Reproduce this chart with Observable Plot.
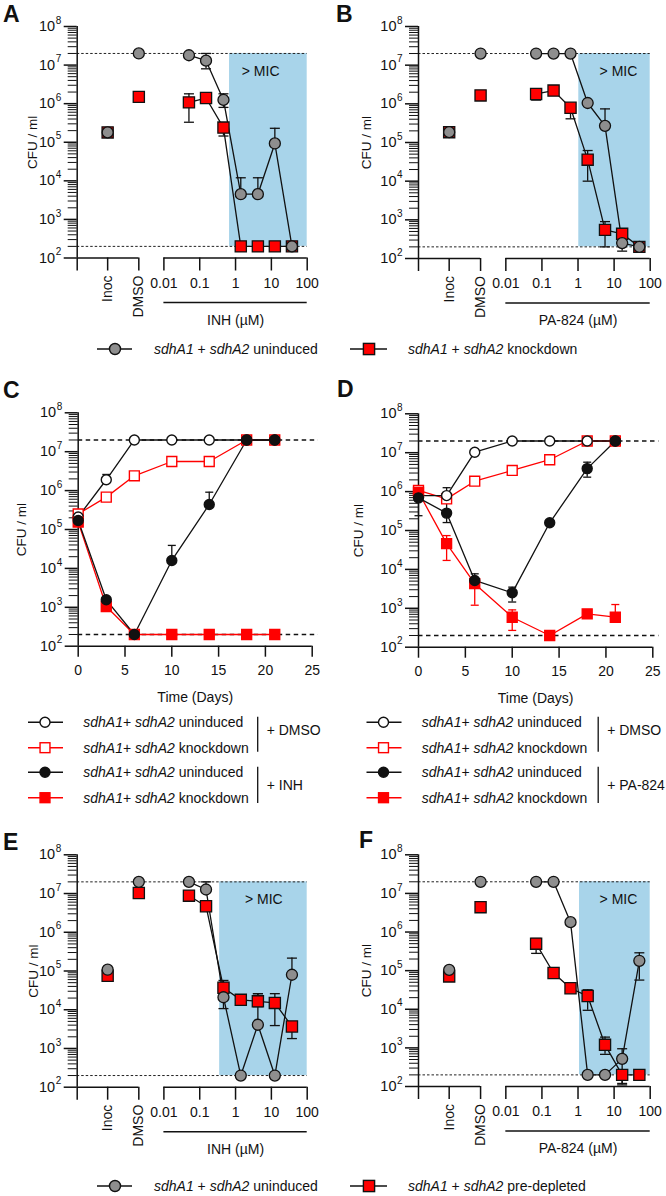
<!DOCTYPE html>
<html><head><meta charset="utf-8">
<script src="https://cdn.jsdelivr.net/npm/d3@7"></script>
<script src="https://cdn.jsdelivr.net/npm/@observablehq/plot@0.6"></script>
<style>
body{margin:0;background:#fff;}
#fig{position:relative;width:666px;height:1196px;overflow:hidden;font-family:"Liberation Sans",Arial,sans-serif;background:#fff;}
#fig svg{position:absolute;}
</style></head><body><div id="fig"></div>
<script>
// ---------------- DATA ----------------
const controlLabels = ["Inoc", "DMSO"];
const inhConc   = [0.05, 0.15, 0.46, 1.4, 4.2, 12.5, 37.5];
const pa824Conc = [0.069, 0.21, 0.62, 1.85, 5.6, 16.7, 50];
const concTickValues = [0.01, 0.1, 1, 10, 100];
const concTickLabels = ["0.01", "0.1", "1", "10", "100"];
const yTickValues = [1e2, 1e3, 1e4, 1e5, 1e6, 1e7, 1e8];
const days = [0, 3, 6, 10, 14, 18, 21];
const dayTicks = [0, 5, 10, 15, 20, 25];
const detectionLimits = [2e7, 200];

// Panel A: INH (values: Inoc, DMSO, then inhConc)
const aUninduced   = [1.8e5, 2e7, 1.8e7, 1.3e7, 1.25e6, 4.5e3, 4.5e3, 9.3e4, 200];
const aUninducedHi = [null, null, null, 2e7, 1.8e6, 1.2e4, 1.2e4, 2.3e5, null];
const aUninducedLo = [null, null, null, 8e6, 8e5, null, null, null, null];
const aKnockdown   = [1.8e5, 1.5e6, 1.08e6, 1.4e6, 2.4e5, 200, 200, 200, 200];
const aKnockdownHi = [null, null, 1.8e6, null, null, null, null, null, null];
const aKnockdownLo = [null, null, 3.3e5, null, 1.45e5, null, null, null, null];

// Panel B: PA-824 (values: Inoc, DMSO, then pa824Conc)
const bUninduced   = [1.85e5, 2e7, 2e7, 2e7, 2e7, 1.05e6, 2.7e5, 250, 200];
const bUninducedHi = [null, null, null, null, null, null, 7.4e5, null, null];
const bUninducedLo = [null, null, null, null, null, null, null, 155, null];
const bKnockdown   = [1.85e5, 1.65e6, 1.8e6, 2.2e6, 7.9e5, 3.6e4, 550, 435, 200];
const bKnockdownHi = [null, null, null, null, 1e6, 6.2e4, 900, null, null];
const bKnockdownLo = [null, null, 1.25e6, null, 4.1e5, 1e4, 200, null, null];

// Panel C: INH time course
const cUninducedDMSO   = [2.1e5, 1.9e6, 2e7, 2e7, 2e7, 2e7, 2e7];
const cUninducedDMSOHi = [null, 2.6e6, null, null, null, null, null];
const cKnockdownDMSO   = [2.5e5, 6.8e5, 2.4e6, 5.6e6, 5.6e6, 2e7, 2e7];
const cUninducedINH    = [1.7e5, 1.56e3, 200, 1.6e4, 4.4e5, 2e7, 2e7];
const cUninducedINHHi  = [null, null, null, 3.9e4, 9.1e5, null, null];
const cKnockdownINH    = [1.55e5, 1.05e3, 200, 200, 200, 200, 200];
const cKnockdownINHLo  = [null, 850, null, null, null, null, null];

// Panel D: PA-824 time course
const dUninducedDMSO   = [7.9e5, 7.9e5, 1.03e7, 2e7, 2e7, 2e7, 2e7];
const dUninducedDMSOHi = [null, 1.26e6, null, null, null, null, null];
const dKnockdownDMSO   = [1.07e6, 6.5e5, 1.85e6, 3.5e6, 6.6e6, 2e7, 2e7];
const dUninducedPA     = [6.9e5, 2.8e5, 5.2e3, 2.5e3, 1.58e5, 3.9e6, 2e7];
const dUninducedPAHi   = [1.3e6, 5.1e5, 7.7e3, 3.5e3, null, 5.7e6, null];
const dUninducedPALo   = [2.4e5, 1.6e5, null, 1.45e3, null, 2.35e6, null];
const dKnockdownPA     = [9.6e5, 4.6e4, 4.3e3, 590, 200, 720, 590];
const dKnockdownPAHi   = [null, 7.4e4, null, 910, null, null, 1.25e3];
const dKnockdownPALo   = [null, 1.7e4, 1.2e3, 270, null, null, null];

// Panel E: INH, pre-depleted
const eUninduced   = [1.08e5, 2e7, 2e7, 1.27e7, 2.1e4, 200, 4.1e3, 200, 8e4];
const eUninducedHi = [null, null, null, 2e7, null, null, 2.6e4, null, 2.15e5];
const eUninducedLo = [null, null, null, null, 1.07e4, null, null, null, null];
const eDepleted    = [7.5e4, 1.03e7, 8.8e6, 4.7e6, 3.7e4, 1.8e4, 1.65e4, 1.5e4, 3.7e3];
const eDepletedHi  = [null, null, null, null, 5.7e4, null, 2.6e4, 2.6e4, 4.9e3];
const eDepletedLo  = [null, null, null, null, null, null, 1.2e4, 3.9e3, 1.8e3];

// Panel F: PA-824, pre-depleted
const fUninduced   = [1.05e5, 2e7, 2e7, 2e7, 1.8e6, 200, 200, 520, 1.8e5];
const fUninducedHi = [null, null, null, null, null, null, null, 950, 2.9e5];
const fUninducedLo = [null, null, null, null, null, null, null, 120, 5.7e4];
const fDepleted    = [7.1e4, 4.4e6, 5e5, 8.7e4, 3.5e4, 2.2e4, 1.2e3, 200, 200];
const fDepletedHi  = [null, null, 6.8e5, null, null, 3.2e4, 1.9e3, null, null];
const fDepletedLo  = [null, null, 2.8e5, null, null, 9.4e3, 680, 110, null];

// ---------------- STYLE ----------------
const INK = "#111", RED = "#ff0000", GRAY = "#8e8e8e", BLUE = "#a8d4ea";
const FONT = '"Liberation Sans", Arial, sans-serif';
const fig = document.getElementById("fig");
const capSymbol = {draw(ctx, size) { const w = Math.sqrt(size / Math.PI); ctx.moveTo(-w, 0); ctx.lineTo(w, 0); }};
const minorTicks = [];
for (let e = 2; e < 8; e++) for (let m = 2; m <= 9; m++) minorTicks.push(m * 10 ** e);

function place(svg, left, top) { svg.style.left = left + "px"; svg.style.top = top + "px"; fig.appendChild(svg); }

function yAxisMarks(XMIN, u, titleDx) {
  return [
    Plot.ruleX([XMIN], {y1: () => 100, y2: () => 1e8, stroke: INK, strokeWidth: 1.5}),
    Plot.ruleY(yTickValues, {y: d => d, x1: () => XMIN, x2: () => XMIN - 13 * u, stroke: INK, strokeWidth: 1.5}),
    Plot.ruleY(minorTicks, {y: d => d, x1: () => XMIN, x2: () => XMIN - 9 * u, stroke: INK, strokeWidth: 1}),
    Plot.text(yTickValues, {x: () => XMIN, y: d => d, text: () => "10", dx: -22, textAnchor: "end", fontSize: 14.5, fill: INK}),
    Plot.text(yTickValues, {x: () => XMIN, y: d => d, text: d => String(Math.round(Math.log10(d))), dx: -21.5, dy: -6, textAnchor: "start", fontSize: 10, fill: INK}),
    Plot.text(["CFU / ml"], {x: () => XMIN + titleDx * u, y: () => 1e5, text: d => d, rotate: -90, fontSize: 13.5, fill: INK})
  ];
}

function errMarks(R, color, cap) {
  const H = R.filter(d => d.hi != null), L = R.filter(d => d.lo != null);
  return [
    Plot.ruleX(H, {x: "x", y1: "v", y2: "hi", stroke: color, strokeWidth: 1.3}),
    Plot.dot(H, {x: "x", y: "hi", symbol: capSymbol, r: cap, stroke: color, strokeWidth: 1.3, fill: "none"}),
    Plot.ruleX(L, {x: "x", y1: "v", y2: "lo", stroke: color, strokeWidth: 1.3}),
    Plot.dot(L, {x: "x", y: "lo", symbol: capSymbol, r: cap, stroke: color, strokeWidth: 1.3, fill: "none"})
  ];
}

function dosePanel(c) {
  const XMIN = -4.42, XMAX = 2;
  const catX = {Inoc: -3.57, DMSO: -2.7};
  const fw = c.width - c.ml - c.mr, fh = c.height - c.mt - c.mb;
  const u = (XMAX - XMIN) / fw;
  const yDown = px => 100 * Math.pow(10, -px / (fh / 6));
  const pos = i => i < 2 ? catX[controlLabels[i]] : Math.log10(c.conc[i - 2]);
  const rows = (v, hi, lo) => v.map((d, i) => ({x: pos(i), v: d, hi: hi[i], lo: lo[i], dose: i >= 2}));
  const U = rows(c.un, c.unHi, c.unLo), K = rows(c.kd, c.kdHi, c.kdLo);
  const ticks = concTickValues.map((v, i) => ({x: Math.log10(v), label: concTickLabels[i]}));
  const svg = Plot.plot({
    width: c.width, height: c.height,
    marginLeft: c.ml, marginRight: c.mr, marginTop: c.mt, marginBottom: c.mb,
    x: {type: "linear", domain: [XMIN, XMAX], axis: null},
    y: {type: "log", domain: [100, 1e8], axis: null},
    style: {fontFamily: FONT, overflow: "visible", background: "transparent"},
    marks: [
      Plot.rect([0], {x1: () => Math.log10(c.micFrom), x2: () => XMAX, y1: () => 200, y2: () => 2e7, fill: BLUE}),
      Plot.ruleY(detectionLimits, {y: d => d, x1: () => XMIN, x2: () => XMAX, stroke: "#222", strokeWidth: 1, strokeDasharray: "2.5,2"}),
      ...yAxisMarks(XMIN, u, c.titleDx),
      Plot.ruleY([100], {y: d => d, x1: () => XMIN, x2: () => catX.DMSO, stroke: INK, strokeWidth: 1.5}),
      Plot.ruleY([100], {y: d => d, x1: () => -2, x2: () => 2, stroke: INK, strokeWidth: 1.5}),
      Plot.ruleX([XMIN, catX.Inoc, catX.DMSO, ...ticks.map(t => t.x)], {x: d => d, y1: () => 100, y2: () => yDown(13), stroke: INK, strokeWidth: 1.5}),
      Plot.text(ticks, {x: "x", y: () => 100, dy: 25.5, text: "label", fontSize: 14, fill: INK}),
      Plot.text(controlLabels, {x: d => catX[d], y: () => yDown(17.5), text: d => d, rotate: -90, textAnchor: "end", fontSize: 14, fill: INK}),
      Plot.ruleY([100], {y: d => d, x1: () => -2, x2: () => 2, dy: 44.5, stroke: INK, strokeWidth: 1.5}),
      Plot.text([c.drug], {x: () => 0, y: () => 100, dy: 62.5, text: d => d, fontSize: 14, fill: INK}),
      Plot.text(["> MIC"], {x: () => c.micLabelX, y: () => 7e6, text: d => d, fontSize: 14, fill: INK}),
      Plot.line(K.filter(d => d.dose), {x: "x", y: "v", stroke: INK, strokeWidth: 1.3}),
      Plot.line(U.filter(d => d.dose), {x: "x", y: "v", stroke: INK, strokeWidth: 1.3}),
      ...errMarks(K, INK, 5),
      ...errMarks(U, INK, 5),
      Plot.dot(K, {x: "x", y: "v", symbol: "square", r: 6.3, fill: RED, stroke: INK, strokeWidth: 1.3}),
      Plot.dot(U, {x: "x", y: "v", symbol: "circle", r: 5.5, fill: GRAY, stroke: INK, strokeWidth: 1.3})
    ]
  });
  place(svg, c.left, c.top);
}

function timePanel(c) {
  const XMIN = 0, XMAX = 25;
  const fw = c.width - c.ml - c.mr, fh = c.height - c.mt - c.mb;
  const u = (XMAX - XMIN) / fw;
  const yDown = px => 100 * Math.pow(10, -px / (fh / 6));
  const S = c.series.map(s => ({...s, rows: s.v.map((v, i) => ({x: days[i], v, hi: s.hi ? s.hi[i] : null, lo: s.lo ? s.lo[i] : null}))}));
  const svg = Plot.plot({
    width: c.width, height: c.height,
    marginLeft: c.ml, marginRight: c.mr, marginTop: c.mt, marginBottom: c.mb,
    x: {type: "linear", domain: [XMIN, XMAX], axis: null},
    y: {type: "log", domain: [100, 1e8], axis: null},
    style: {fontFamily: FONT, overflow: "visible", background: "transparent"},
    marks: [
      Plot.ruleY(detectionLimits, {y: d => d, x1: () => XMIN, x2: () => 25.65, stroke: INK, strokeWidth: 1.6, strokeDasharray: "4.5,3.5"}),
      ...yAxisMarks(XMIN, u, c.titleDx),
      Plot.ruleY([100], {y: d => d, x1: () => XMIN, x2: () => XMAX, stroke: INK, strokeWidth: 1.5}),
      Plot.ruleX(dayTicks, {x: d => d, y1: () => 100, y2: () => yDown(11), stroke: INK, strokeWidth: 1.5}),
      Plot.text(dayTicks, {x: d => d, y: () => 100, dy: 24.3, text: d => String(d), fontSize: 14, fill: INK}),
      Plot.text(["Time (Days)"], {x: () => 12.5, y: () => 100, dy: 51, text: d => d, fontSize: 14, fill: INK}),
      ...S.map(s => Plot.line(s.rows, {x: "x", y: "v", stroke: s.color, strokeWidth: 1.3})),
      ...S.flatMap(s => errMarks(s.rows, s.color, 4)),
      ...S.map(s => Plot.dot(s.rows, {x: "x", y: "v", symbol: s.symbol, r: s.symbol === "square" ? 5.6 : 5, fill: s.filled ? s.color : "white", stroke: s.color, strokeWidth: 1.4}))
    ]
  });
  place(svg, c.left, c.top);
}

dosePanel({conc: inhConc, un: aUninduced, unHi: aUninducedHi, unLo: aUninducedLo, kd: aKnockdown, kdHi: aKnockdownHi, kdLo: aKnockdownLo,
  micFrom: 0.68, micLabelX: 0.7, drug: "INH (µM)", left: 0, top: 0, width: 333, height: 340, ml: 76.7, mr: 26.3, mt: 26, mb: 82.5, titleDx: -44.7});
dosePanel({conc: pa824Conc, un: bUninduced, unHi: bUninducedHi, unLo: bUninducedLo, kd: bKnockdown, kdHi: bKnockdownHi, kdLo: bKnockdownLo,
  micFrom: 1.05, micLabelX: 1.12, drug: "PA-824 (µM)", left: 333, top: 0, width: 333, height: 340, ml: 85, mr: 16.3, mt: 26, mb: 82, titleDx: -52});
timePanel({left: 0, top: 370, width: 333, height: 340, ml: 77.7, mr: 21.3, mt: 42.3, mb: 64.3, titleDx: -57,
  series: [
    {v: cKnockdownDMSO, color: RED, symbol: "square", filled: false},
    {v: cUninducedDMSO, hi: cUninducedDMSOHi, color: INK, symbol: "circle", filled: false},
    {v: cKnockdownINH, lo: cKnockdownINHLo, color: RED, symbol: "square", filled: true},
    {v: cUninducedINH, hi: cUninducedINHHi, color: INK, symbol: "circle", filled: true}
  ]});
timePanel({left: 333, top: 370, width: 333, height: 340, ml: 85, mr: 13.7, mt: 43.3, mb: 63.3, titleDx: -60,
  series: [
    {v: dKnockdownDMSO, color: RED, symbol: "square", filled: false},
    {v: dUninducedDMSO, hi: dUninducedDMSOHi, color: INK, symbol: "circle", filled: false},
    {v: dKnockdownPA, hi: dKnockdownPAHi, lo: dKnockdownPALo, color: RED, symbol: "square", filled: true},
    {v: dUninducedPA, hi: dUninducedPAHi, lo: dUninducedPALo, color: INK, symbol: "circle", filled: true}
  ]});
dosePanel({conc: inhConc, un: eUninduced, unHi: eUninducedHi, unLo: eUninducedLo, kd: eDepleted, kdHi: eDepletedHi, kdLo: eDepletedLo,
  micFrom: 0.36, micLabelX: 0.79, drug: "INH (µM)", left: 0, top: 800, width: 333, height: 365, ml: 76.7, mr: 26.3, mt: 54.3, mb: 78.3, titleDx: -43.7});
dosePanel({conc: pa824Conc, un: fUninduced, unHi: fUninducedHi, unLo: fUninducedLo, kd: fDepleted, kdHi: fDepletedHi, kdLo: fDepletedLo,
  micFrom: 1.1, micLabelX: 1.12, drug: "PA-824 (µM)", left: 333, top: 800, width: 333, height: 365, ml: 85, mr: 16.3, mt: 54.3, mb: 79, titleDx: -52});

// ---------------- LETTERS & LEGENDS (overlay) ----------------
const NS = "http://www.w3.org/2000/svg";
const ov = document.createElementNS(NS, "svg");
ov.setAttribute("width", 666); ov.setAttribute("height", 1196);
ov.style.left = "0px"; ov.style.top = "0px"; ov.style.pointerEvents = "none";
ov.setAttribute("font-family", FONT);
let h = "";
const letter = (t, x, y) => { h += `<text x="${x}" y="${y}" font-size="23" font-weight="bold" fill="${INK}">${t}</text>`; };
letter("A", 3, 21.5); letter("B", 336, 21.5); letter("C", 3, 398); letter("D", 337, 397); letter("E", 3, 850); letter("F", 359, 848);

const circleGlyph = (cx, cy, r, fill, stroke) => `<circle cx="${cx}" cy="${cy}" r="${r}" fill="${fill}" stroke="${stroke}" stroke-width="1.4"/>`;
const squareGlyph = (cx, cy, s, fill, stroke) => `<rect x="${cx - s / 2}" y="${cy - s / 2}" width="${s}" height="${s}" fill="${fill}" stroke="${stroke}" stroke-width="1.4"/>`;
const lineGlyph = (x1, x2, y, stroke) => `<line x1="${x1}" x2="${x2}" y1="${y}" y2="${y}" stroke="${stroke}" stroke-width="1.4"/>`;
const label = (x, y, sep, tail) => `<text x="${x}" y="${y + 5}" font-size="14" fill="${INK}"><tspan font-style="italic">sdhA1</tspan>${sep}<tspan font-style="italic">sdhA2</tspan> ${tail}</text>`;
const plain = (x, y, t) => `<text x="${x}" y="${y + 5}" font-size="14" fill="${INK}">${t}</text>`;

// dose-response legends
[[349, "knockdown"], [1186, "pre-depleted"]].forEach(([y, second]) => {
  h += lineGlyph(97, 132, y, INK) + circleGlyph(115, y, 5.5, GRAY, INK) + label(154, y, " + ", "uninduced");
  h += lineGlyph(350, 387, y, INK) + squareGlyph(369, y, 11.2, RED, INK) + label(408, y, " + ", second);
});
// time-course legends
const rowsY = [722.3, 747.7, 772.3, 797.7];
[[0, "+ INH"], [338.5, "+ PA-824"]].forEach(([ox, drug]) => {
  const gx1 = 28 + ox, gx2 = 63 + ox, mx = 45 + ox, tx = 83.3 + ox, bx = 257.7 + ox + (ox ? 2 : 0), lx = 266.7 + ox + (ox ? 2 : 0);
  h += lineGlyph(gx1, gx2, rowsY[0], INK) + circleGlyph(mx, rowsY[0], 5, "white", INK) + label(tx, rowsY[0], "+ ", "uninduced");
  h += lineGlyph(gx1, gx2, rowsY[1], RED) + squareGlyph(mx, rowsY[1], 9.9, "white", RED) + label(tx, rowsY[1], "+ ", "knockdown");
  h += lineGlyph(gx1, gx2, rowsY[2], INK) + circleGlyph(mx, rowsY[2], 5, INK, INK) + label(tx, rowsY[2], "+ ", "uninduced");
  h += lineGlyph(gx1, gx2, rowsY[3], RED) + squareGlyph(mx, rowsY[3], 9.9, RED, RED) + label(tx, rowsY[3], "+ ", "knockdown");
  h += `<line x1="${bx}" x2="${bx}" y1="716.7" y2="751.7" stroke="${INK}" stroke-width="1.3"/>`;
  h += `<line x1="${bx}" x2="${bx}" y1="766.7" y2="803" stroke="${INK}" stroke-width="1.3"/>`;
  h += plain(lx, 730, "+ DMSO") + plain(lx, 785, drug);
});
ov.innerHTML = h;
fig.appendChild(ov);
</script></body></html>
